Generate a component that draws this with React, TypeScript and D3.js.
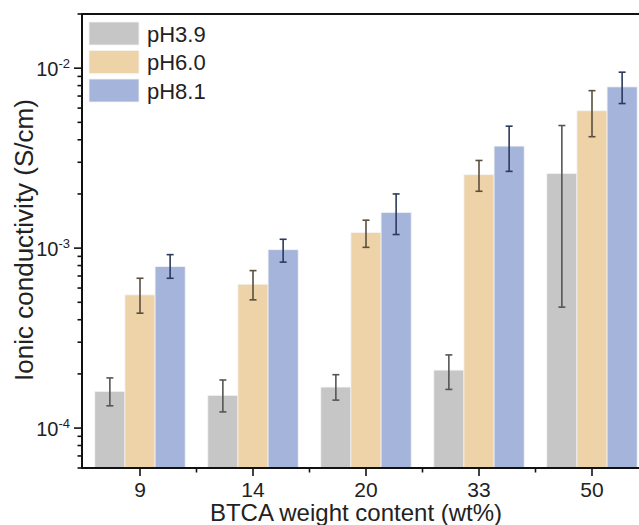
import React, { useEffect, useRef } from "react";
import * as d3 from "d3";

const categories = ["9", "14", "20", "33", "50"];
const seriesNames = ["pH3.9", "pH6.0", "pH8.1"];

// conductivity values (S/cm) and error bar ends
const pH39 = [1.6e-4, 1.52e-4, 1.69e-4, 2.1e-4, 2.6e-3];
const pH39Hi = [1.9e-4, 1.85e-4, 1.98e-4, 2.55e-4, 4.8e-3];
const pH39Lo = [1.33e-4, 1.23e-4, 1.43e-4, 1.64e-4, 4.7e-4];
const pH60 = [5.5e-4, 6.3e-4, 1.22e-3, 2.56e-3, 5.8e-3];
const pH60Hi = [6.8e-4, 7.5e-4, 1.43e-3, 3.07e-3, 7.5e-3];
const pH60Lo = [4.35e-4, 5.16e-4, 1.01e-3, 2.07e-3, 4.16e-3];
const pH81 = [7.9e-4, 9.8e-4, 1.58e-3, 3.69e-3, 7.87e-3];
const pH81Hi = [9.2e-4, 1.12e-3, 2.0e-3, 4.76e-3, 9.5e-3];
const pH81Lo = [6.8e-4, 8.36e-4, 1.19e-3, 2.67e-3, 6.36e-3];

const yTickExps = [-4, -3, -2];

const fills = ["#c6c6c6", "#edd3a7", "#a5b4da"];
const errColors = ["#555555", "#5a4e40", "#2c3a5c"];

const App = () => {
  const ref = useRef<SVGSVGElement>(null);

  useEffect(() => {
    const svg = d3.select(ref.current);
    svg.selectAll("*").remove();

    const width = 639;
    const height = 525;
    const margin = { left: 82, top: 14, bottom: 468, right: 648.5 };
    const font = "'Liberation Sans', Arial, sans-serif";

    const values = [pH39, pH60, pH81];
    const his = [pH39Hi, pH60Hi, pH81Hi];
    const los = [pH39Lo, pH60Lo, pH81Lo];

    const rows = categories.flatMap((c, i) =>
      seriesNames.map((s, j) => ({
        cat: c,
        series: s,
        j,
        v: values[j][i],
        hi: his[j][i],
        lo: los[j][i],
      }))
    );

    const x = d3
      .scaleBand()
      .domain(categories)
      .range([83.5, margin.right])
      .paddingInner(0.2)
      .paddingOuter(0.1);

    const xInner = d3
      .scaleBand()
      .domain(seriesNames)
      .range([0, x.bandwidth()]);

    const y = d3
      .scaleLog()
      .domain([6e-5, 2e-2])
      .range([margin.bottom, margin.top]);

    svg.attr("width", width).attr("height", height);

    // bars
    svg
      .append("g")
      .selectAll("rect")
      .data(rows)
      .join("rect")
      .attr("x", (d) => x(d.cat)! + xInner(d.series)!)
      .attr("y", (d) => y(d.v))
      .attr("width", xInner.bandwidth())
      .attr("height", (d) => margin.bottom - y(d.v))
      .attr("fill", (d) => fills[d.j])
      .attr("stroke", "#f4f4f4")
      .attr("stroke-width", 0.8);

    // error bars
    const eb = svg
      .append("g")
      .selectAll("g")
      .data(rows)
      .join("g")
      .attr("stroke", (d) => errColors[d.j])
      .attr("stroke-width", 1.6);
    const cx = (d) => x(d.cat)! + xInner(d.series)! + xInner.bandwidth() / 2;
    eb.append("line")
      .attr("x1", cx)
      .attr("x2", cx)
      .attr("y1", (d) => y(d.hi))
      .attr("y2", (d) => Math.min(y(d.lo), margin.bottom));
    eb.append("line")
      .attr("x1", (d) => cx(d) - 3.5)
      .attr("x2", (d) => cx(d) + 3.5)
      .attr("y1", (d) => y(d.hi))
      .attr("y2", (d) => y(d.hi));
    eb.append("line")
      .attr("x1", (d) => cx(d) - 3.5)
      .attr("x2", (d) => cx(d) + 3.5)
      .attr("y1", (d) => y(d.lo))
      .attr("y2", (d) => y(d.lo));

    // y axis ticks (log minor + major)
    const [d0, d1] = y.domain();
    const allTicks = y.ticks().filter((t) => t >= d0 && t <= d1);
    const majors = yTickExps.map((e) => Math.pow(10, e));
    const yg = svg.append("g").attr("stroke", "#111").attr("stroke-width", 1.6);
    yg.selectAll("line")
      .data(allTicks)
      .join("line")
      .attr("x1", margin.left)
      .attr("x2", (d) =>
        majors.some((m) => Math.abs(m - d) / m < 1e-6) ? margin.left - 8 : margin.left - 4.5
      )
      .attr("y1", (d) => y(d))
      .attr("y2", (d) => y(d));

    const yl = svg
      .append("g")
      .attr("font-family", font)
      .attr("fill", "#222")
      .selectAll("text")
      .data(yTickExps)
      .join("text")
      .attr("x", margin.left - 12)
      .attr("y", (d) => y(Math.pow(10, d)) + 8)
      .attr("text-anchor", "end")
      .attr("font-size", 20);
    yl.append("tspan").text("10");
    yl.append("tspan")
      .attr("font-size", 13)
      .attr("dy", -8)
      .text((d) => "-" + Math.abs(d));

    // x axis ticks
    const xg = svg.append("g").attr("stroke", "#111").attr("stroke-width", 1.6);
    xg.selectAll("line.major")
      .data(categories)
      .join("line")
      .attr("class", "major")
      .attr("x1", (d) => x(d)! + x.bandwidth() / 2)
      .attr("x2", (d) => x(d)! + x.bandwidth() / 2)
      .attr("y1", margin.bottom)
      .attr("y2", margin.bottom + 8);
    xg.selectAll("line.minor")
      .data(categories.slice(1))
      .join("line")
      .attr("class", "minor")
      .attr("x1", (d) => x(d)! - (x.step() - x.bandwidth()) / 2)
      .attr("x2", (d) => x(d)! - (x.step() - x.bandwidth()) / 2)
      .attr("y1", margin.bottom)
      .attr("y2", margin.bottom + 4.5);

    svg
      .append("g")
      .attr("font-family", font)
      .attr("fill", "#222")
      .selectAll("text")
      .data(categories)
      .join("text")
      .attr("x", (d) => x(d)! + x.bandwidth() / 2)
      .attr("y", 497)
      .attr("text-anchor", "middle")
      .attr("font-size", 21)
      .text((d) => d);

    // frame
    svg
      .append("rect")
      .attr("x", margin.left)
      .attr("y", margin.top)
      .attr("width", margin.right - margin.left)
      .attr("height", margin.bottom - margin.top)
      .attr("fill", "none")
      .attr("stroke", "#111")
      .attr("stroke-width", 2);

    // legend
    const lg = svg
      .append("g")
      .selectAll("g")
      .data(seriesNames)
      .join("g")
      .attr("transform", (d, i) => "translate(89," + (22 + i * 28.5) + ")");
    lg.append("rect")
      .attr("width", 50)
      .attr("height", 23)
      .attr("fill", (d, i) => fills[i])
      .attr("stroke", "#f4f4f4")
      .attr("stroke-width", 0.8);
    lg.append("text")
      .attr("x", 58)
      .attr("y", 19.5)
      .attr("font-family", font)
      .attr("font-size", 22)
      .attr("fill", "#222")
      .text((d) => d);

    // axis titles
    svg
      .append("text")
      .attr("x", 356)
      .attr("y", 521)
      .attr("text-anchor", "middle")
      .attr("font-family", font)
      .attr("font-size", 24)
      .attr("fill", "#222")
      .text("BTCA weight content (wt%)");

    svg
      .append("text")
      .attr("transform", "translate(33,240) rotate(-90)")
      .attr("text-anchor", "middle")
      .attr("font-family", font)
      .attr("font-size", 26)
      .attr("fill", "#222")
      .text("Ionic conductivity (S/cm)");
  }, []);

  return (
    <svg
      ref={ref}
      style={{ position: "absolute", left: 0, top: 0, background: "#fff" }}
    ></svg>
  );
};

export default App;
